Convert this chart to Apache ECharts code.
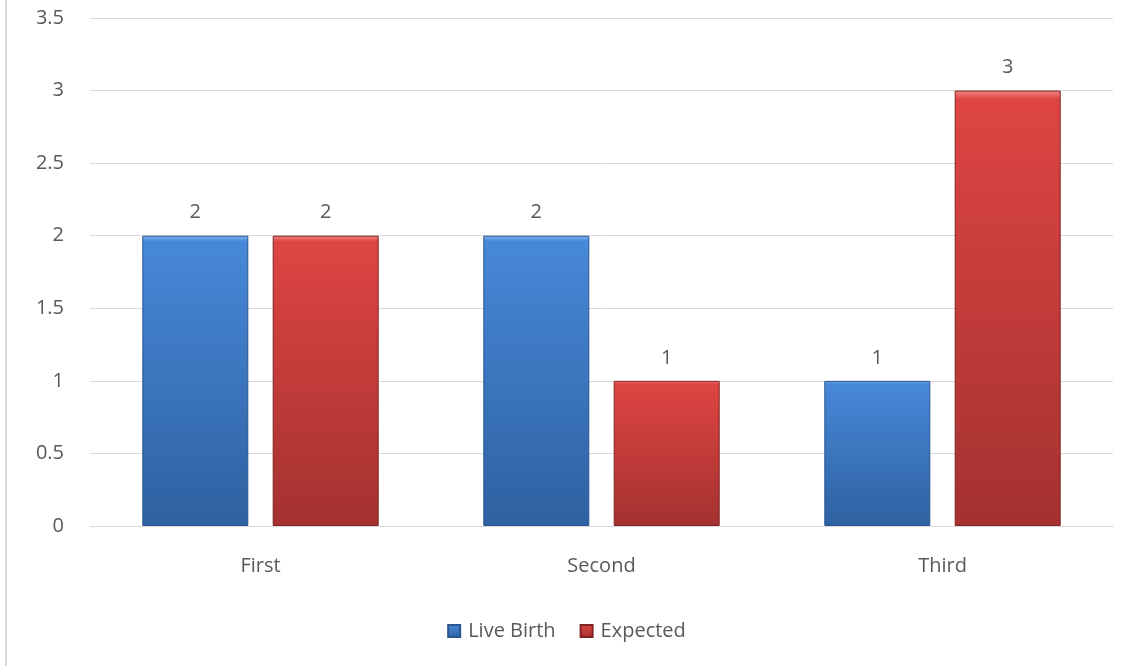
<!DOCTYPE html>
<html>
<head>
<meta charset="utf-8">
<script src="https://cdn.jsdelivr.net/npm/echarts@6/dist/echarts.min.js"></script>
<style>
  html, body { margin: 0; padding: 0; background: #ffffff; }
  #chart { width: 1133px; height: 666px; }
</style>
</head>
<body>
<div id="chart"></div>
<script>
// Birth order counts: observed live births vs expected
const categories = ['First', 'Second', 'Third'];
const liveBirth = [2, 2, 1];
const expected = [2, 1, 3];
const seriesNames = ['Live Birth', 'Expected'];

const textColor = '#595959';
const fontFamily = '"Open Sans", "Noto Sans", sans-serif';
const fontSize = 20;

// vertical shading with a light rim at the top and darker foot, like a bevelled bar
function barFill(rim, top, bottom) {
  return new echarts.graphic.LinearGradient(0, 0, 0, 1, [
    { offset: 0, color: rim },
    { offset: 0.02, color: top },
    { offset: 0.97, color: bottom },
    { offset: 1, color: bottom }
  ]);
}

const chart = echarts.init(document.getElementById('chart'), null, { renderer: 'canvas' });

const labelStyle = {
  show: true,
  position: 'top',
  distance: 13,
  color: textColor,
  fontSize: fontSize,
  fontFamily: fontFamily
};

chart.setOption({
  animation: false,
  backgroundColor: '#ffffff',
  graphic: [{
    type: 'line',
    shape: { x1: 6, y1: 0, x2: 6, y2: 666 },
    style: { stroke: '#d9d9d9', lineWidth: 2 }
  }],
  grid: { left: 90, right: 20, top: 18, bottom: 140, containLabel: false },
  legend: {
    data: seriesNames,
    bottom: 20,
    left: 'center',
    itemWidth: 12,
    itemHeight: 12,
    itemGap: 24,
    icon: 'rect',
    textStyle: { color: textColor, fontSize: fontSize, fontFamily: fontFamily, padding: [0, 0, 0, 3] }
  },
  xAxis: {
    type: 'category',
    data: categories,
    axisLine: { lineStyle: { color: '#d9d9d9', width: 1 } },
    axisTick: { show: false },
    axisLabel: { color: textColor, fontSize: fontSize, fontFamily: fontFamily, margin: 30 }
  },
  yAxis: {
    type: 'value',
    min: 0,
    max: 3.5,
    interval: 0.5,
    axisLine: { show: false },
    axisTick: { show: false },
    splitLine: { lineStyle: { color: '#d9d9d9', width: 1 } },
    axisLabel: { color: textColor, fontSize: fontSize, fontFamily: fontFamily, margin: 26 }
  },
  series: [
    {
      name: seriesNames[0],
      type: 'bar',
      data: liveBirth,
      barWidth: 106,
      barGap: '23%',
      itemStyle: {
        color: barFill('#7fb2ef', '#4788d8', '#2f62a2'),
        borderColor: '#2a568f',
        borderWidth: 1
      },
      label: labelStyle
    },
    {
      name: seriesNames[1],
      type: 'bar',
      data: expected,
      barWidth: 106,
      itemStyle: {
        color: barFill('#f08582', '#de4542', '#a53230'),
        borderColor: '#7e2322',
        borderWidth: 1
      },
      label: labelStyle
    }
  ]
});
</script>
</body>
</html>
